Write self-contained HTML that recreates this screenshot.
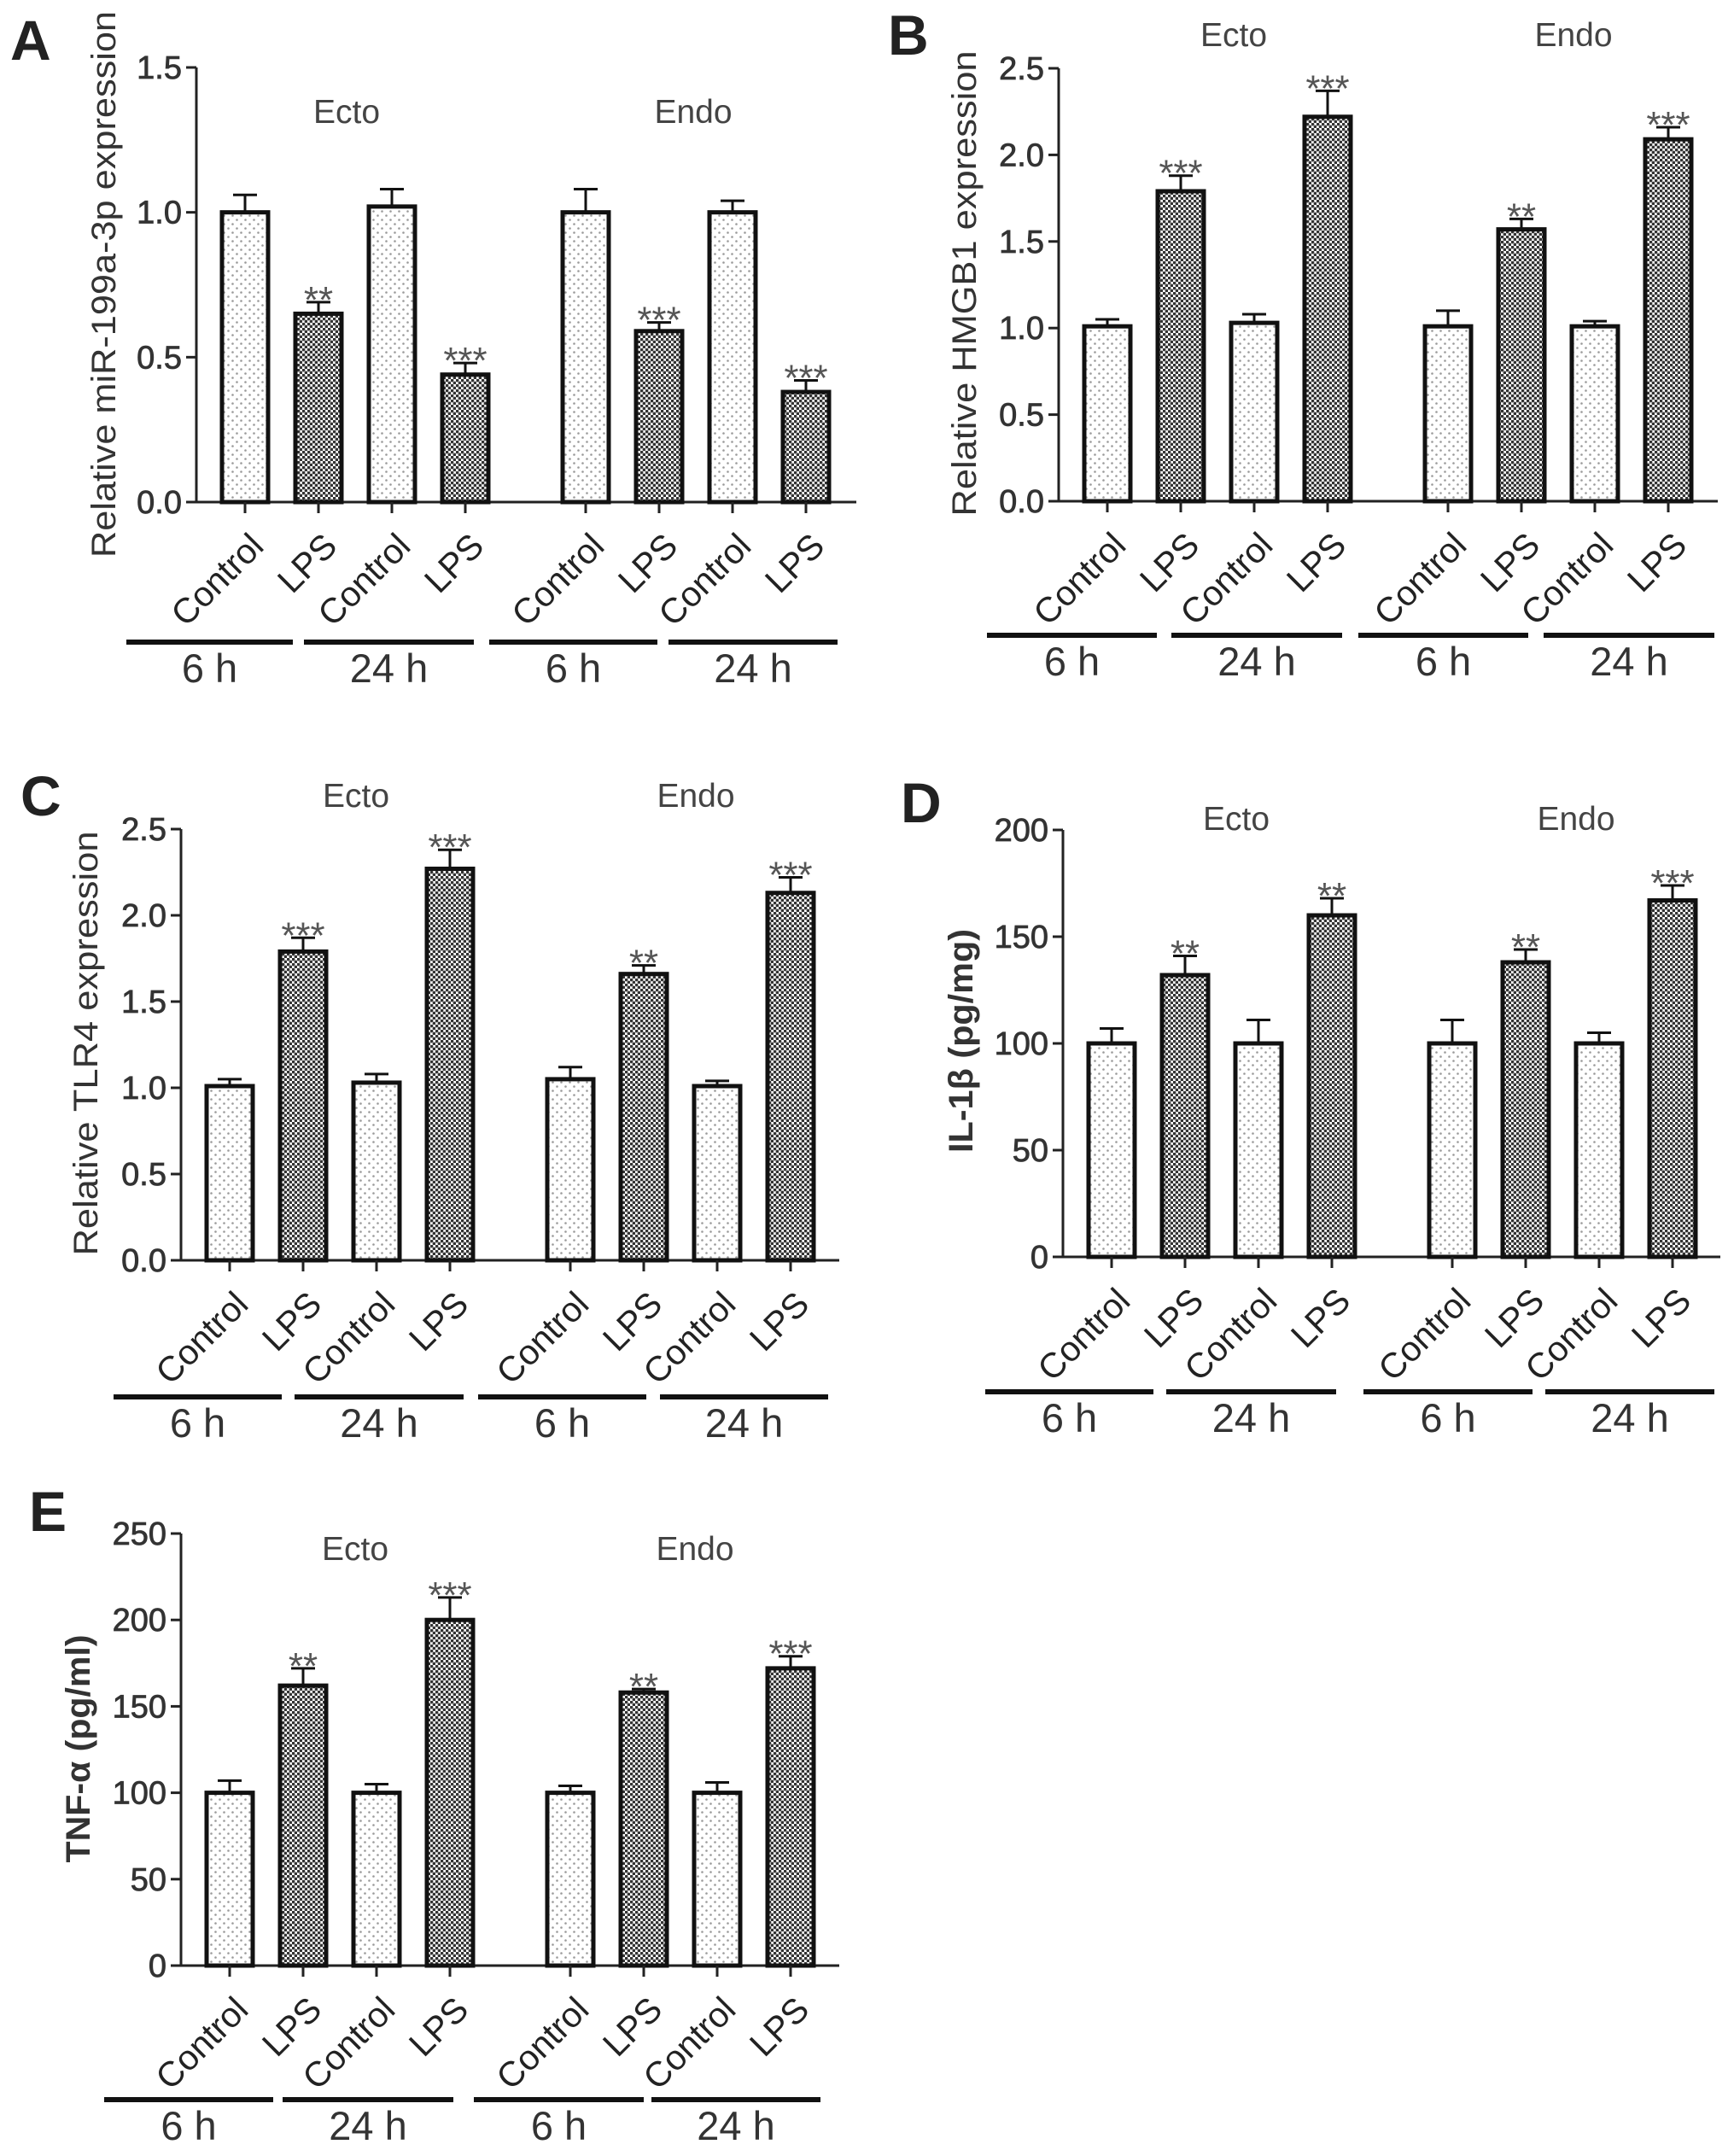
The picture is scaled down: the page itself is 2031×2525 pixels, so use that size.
<!DOCTYPE html>
<html><head><meta charset="utf-8"><style>
html,body{margin:0;padding:0;background:#fff}
svg{display:block;font-family:"Liberation Sans",Arial,sans-serif}
</style></head><body>
<svg id="fig" xmlns="http://www.w3.org/2000/svg" width="2031" height="2525" viewBox="0 0 2031 2525">
<defs>
<pattern id="dotCtrl" width="10" height="10" patternUnits="userSpaceOnUse">
<rect width="10" height="10" fill="#fff"/><circle cx="2.5" cy="2.5" r="1.3" fill="#9a9a9a"/><circle cx="7.5" cy="7.5" r="1.3" fill="#9a9a9a"/>
</pattern>
<pattern id="dotLps" width="6" height="6" patternUnits="userSpaceOnUse">
<rect width="6" height="6" fill="#fff"/><circle cx="1.5" cy="1.5" r="1.9" fill="#333"/><circle cx="4.5" cy="4.5" r="1.9" fill="#333"/>
</pattern>
</defs>
</svg>
<script>
// ---- data ----
const categories = ["Control","LPS","Control","LPS","Control","LPS","Control","LPS"];
const timeLabels = ["6 h","24 h","6 h","24 h"];
const groupLabels = ["Ecto","Endo"];

const aValues = [1.0, 0.65, 1.02, 0.44, 1.0, 0.59, 1.0, 0.38];
const aErrors = [0.06, 0.04, 0.06, 0.04, 0.08, 0.03, 0.04, 0.04];
const aStars  = ["", "**", "", "***", "", "***", "", "***"];
const aTicks  = [0, 0.5, 1.0, 1.5];

const bValues = [1.01, 1.79, 1.03, 2.22, 1.01, 1.57, 1.01, 2.09];
const bErrors = [0.04, 0.09, 0.05, 0.15, 0.09, 0.06, 0.03, 0.07];
const bStars  = ["", "***", "", "***", "", "**", "", "***"];
const bTicks  = [0, 0.5, 1.0, 1.5, 2.0, 2.5];

const cValues = [1.01, 1.79, 1.03, 2.27, 1.05, 1.66, 1.01, 2.13];
const cErrors = [0.04, 0.08, 0.05, 0.11, 0.07, 0.05, 0.03, 0.09];
const cStars  = ["", "***", "", "***", "", "**", "", "***"];
const cTicks  = [0, 0.5, 1.0, 1.5, 2.0, 2.5];

const dValues = [100, 132, 100, 160, 100, 138, 100, 167];
const dErrors = [7, 9, 11, 8, 11, 6, 5, 7];
const dStars  = ["", "**", "", "**", "", "**", "", "***"];
const dTicks  = [0, 50, 100, 150, 200];

const eValues = [100, 162, 100, 200, 100, 158, 100, 172];
const eErrors = [7, 10, 5, 13, 4, 2, 6, 7];
const eStars  = ["", "**", "", "***", "", "**", "", "***"];
const eTicks  = [0, 50, 100, 150, 200, 250];

const svg = document.getElementById('fig');
const NS = 'http://www.w3.org/2000/svg';
function mk(tag, attrs, parent){
  const e = document.createElementNS(NS, tag);
  for (const k in attrs) e.setAttribute(k, attrs[k]);
  (parent||svg).appendChild(e);
  return e;
}

const panels = [
 {id:'a', letter:'A', lx:12, ly:70, x0:230, y0:588, yTop:79, max:1.5, ticks:aTicks, dec:1, values:aValues, errors:aErrors, stars:aStars,
  axisEnd:1003, ecto:[406,144], endo:[812,144], lineY:752, segs:[[-82,113],[126,325],[343,540],[553,751]],
  title:'Relative miR-199a-3p expression', tx:121, ty:333, tlen:640, tbold:false},
 {id:'b', letter:'B', lx:1040, ly:64, x0:1240, y0:587, yTop:80, max:2.5, ticks:bTicks, dec:1, values:bValues, errors:bErrors, stars:bStars,
  axisEnd:2012, ecto:[1445,54], endo:[1843,54], lineY:744, segs:[[-84,115],[132,332],[351,550],[568,768]],
  title:'Relative HMGB1 expression', tx:1129, ty:332, tlen:545, tbold:false},
 {id:'c', letter:'C', lx:24, ly:955, x0:212, y0:1476, yTop:971, max:2.5, ticks:cTicks, dec:1, values:cValues, errors:cErrors, stars:cStars,
  axisEnd:983, ecto:[417,945], endo:[815,945], lineY:1636, segs:[[-79,118],[133,331],[348,545],[561,758]],
  title:'Relative TLR4 expression', tx:100, ty:1222, tlen:497, tbold:false},
 {id:'d', letter:'D', lx:1055, ly:963, x0:1245, y0:1472, yTop:972, max:200, ticks:dTicks, dec:0, values:dValues, errors:dErrors, stars:dStars,
  axisEnd:2015, ecto:[1448,972], endo:[1846,972], lineY:1630, segs:[[-91,106],[121,320],[352,550],[565,763]],
  title:'IL-1β (pg/mg)', tx:1125, ty:1219, tlen:262, tbold:true},
 {id:'e', letter:'E', lx:34, ly:1793, x0:212, y0:2302, yTop:1796, max:250, ticks:eTicks, dec:0, values:eValues, errors:eErrors, stars:eStars,
  axisEnd:983, ecto:[416,1827], endo:[814,1827], lineY:2459, segs:[[-90,108],[119,319],[343,542],[551,749]],
  title:'TNF-α (pg/ml)', tx:91, ty:2048, tlen:267, tbold:true}
];

const BW = 59;
panels.forEach(p => {
  const g = mk('g', {});
  
  
  const yScale = v => p.y0 - (v / p.max) * (p.y0 - p.yTop);
  const xScale = i => p.x0 + 57 + i * 86 + (i >= 4 ? 55 : 0);

  const L = mk('text', {x:p.lx, y:p.ly, 'font-size':66, 'font-weight':'bold', fill:'#222'}, g);
  L.textContent = p.letter;
  
  

  const ya = mk('line', {x1:p.x0, y1:p.yTop, x2:p.x0, y2:p.y0, stroke:'#222', 'stroke-width':3}, g);
  
  
  p.ticks.forEach(t => {
    const y = yScale(t);
    mk('line', {x1:p.x0-12, y1:y, x2:p.x0, y2:y, stroke:'#222', 'stroke-width':3}, g);
    const tl = mk('text', {x:p.x0-17, y:y+13, 'font-size':38, 'text-anchor':'end', fill:'#333', stroke:'#333', 'stroke-width':0.8}, g);
    tl.textContent = t.toFixed(p.dec);
    
    
  });
  const xa = mk('line', {x1:p.x0-12, y1:p.y0, x2:p.axisEnd, y2:p.y0, stroke:'#222', 'stroke-width':3}, g);
  
  

  const tt = mk('text', {x:0, y:0, 'font-size':40, 'text-anchor':'middle', fill:'#333',
    'font-weight': p.tbold ? 'bold' : 'normal',
    textLength:p.tlen, lengthAdjust:'spacingAndGlyphs',
    transform:`translate(${p.tx+14},${p.ty}) rotate(-90)`}, g);
  tt.textContent = p.title;
  
  

  [p.ecto, p.endo].forEach((pos, k) => {
    const gl = mk('text', {x:pos[0], y:pos[1], 'font-size':39, 'text-anchor':'middle', fill:'#444'}, g);
    gl.textContent = groupLabels[k];
    
    
  });

  p.values.forEach((v, i) => {
    const cx = xScale(i);
    const top = yScale(v);
    const errTop = yScale(v + p.errors[i]);
    const eb = mk('line', {x1:cx, y1:top, x2:cx, y2:errTop, stroke:'#111', 'stroke-width':3}, g);
    
    
    mk('line', {x1:cx-14, y1:errTop, x2:cx+14, y2:errTop, stroke:'#111', 'stroke-width':3}, g);
    const r = mk('rect', {x:cx-BW/2+2.5, y:top, width:BW-5, height:p.y0-top,
      fill: i % 2 === 0 ? 'url(#dotCtrl)' : 'url(#dotLps)', stroke:'#111', 'stroke-width':5}, g);
    
    
    if (p.stars[i]) {
      const st = mk('text', {x:cx, y:errTop+12, 'font-size':44, 'text-anchor':'middle', fill:'#555'}, g);
      st.textContent = p.stars[i];
      
      
    }
    mk('line', {x1:cx, y1:p.y0, x2:cx, y2:p.y0+13, stroke:'#222', 'stroke-width':3}, g);
    const ax = cx + 24, ay = p.y0 + 54;
    const cl = mk('text', {x:ax, y:ay, 'font-size':41, 'text-anchor':'end', fill:'#222',
      transform:`rotate(-45 ${ax} ${ay})`}, g);
    cl.textContent = categories[i];
    
    
  });

  p.segs.forEach((s, k) => {
    const ln = mk('line', {x1:p.x0+s[0], y1:p.lineY, x2:p.x0+s[1], y2:p.lineY, stroke:'#111', 'stroke-width':6}, g);
    
    
    const tl = mk('text', {x:p.x0+(s[0]+s[1])/2, y:p.lineY+47, 'font-size':47, 'text-anchor':'middle', fill:'#333'}, g);
    tl.textContent = timeLabels[k];
    
    
  });
});
</script>
</body></html>
